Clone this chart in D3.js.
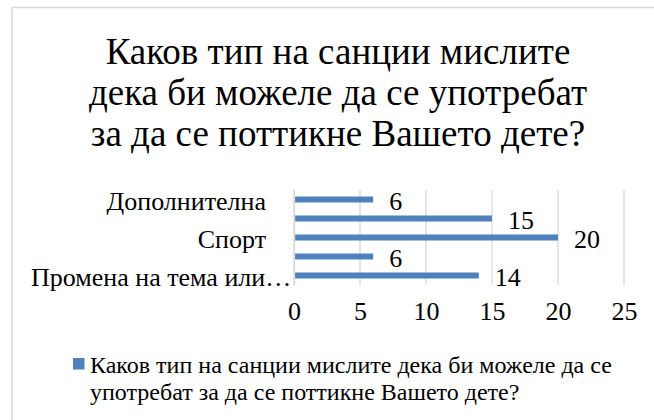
<!DOCTYPE html>
<html>
<head>
<meta charset="utf-8">
<script src="https://cdn.jsdelivr.net/npm/d3@7"></script>
<style>
  html, body { margin: 0; padding: 0; background: #fff; }
  svg { display: block; }
</style>
</head>
<body>
<svg id="chart" width="654" height="420"></svg>
<script>
// Categories in data order (Excel draws the first category at the bottom).
// Only every other label is visible in the reference; hidden ones are unreadable.
const categories = ["Промена на тема или…", "Категорија 2", "Спорт", "Категорија 4", "Дополнителна"];
const shownLabels = ["Промена на тема или…", "Спорт", "Дополнителна"];
const values = [14, 6, 20, 15, 6];
const xTicks = [0, 5, 10, 15, 20, 25];
const titleLines = ["Каков тип на санции мислите", "дека би можеле да се употребат", "за да се поттикне Вашето дете?"];
const legendLines = ["Каков тип на санции мислите дека би можеле да се", "употребат за да се поттикне Вашето дете?"];

const FONT = "'Liberation Serif', 'Times New Roman', serif";
const svg = d3.select("#chart");
const W = 654, H = 420;
const grid = "#d9d9d9", barColor = "#4f81bd", textColor = "#000";

// chart frame (extends past right / bottom edge)
svg.append("rect").attr("x", 12).attr("y", 7.5).attr("width", W).attr("height", H)
  .attr("fill", "#fff").attr("stroke", grid).attr("stroke-width", 1.5);

// title
svg.append("g").selectAll("text").data(titleLines).join("text")
  .attr("x", 338).attr("y", (d, i) => 63.5 + i * 41)
  .attr("text-anchor", "middle").attr("font-size", 37).attr("fill", textColor)
  .style("font-family", FONT)
  .text(d => d);

// scales
const plot = { left: 294, right: 624, top: 190, bottom: 285 };
const x = d3.scaleLinear().domain([0, 25]).range([plot.left, plot.right]);
const y = d3.scaleBand().domain(categories).range([plot.bottom, plot.top])
  .paddingInner(0.684).paddingOuter(0.342);

// gridlines
svg.append("g").selectAll("line").data(xTicks).join("line")
  .attr("x1", d => x(d)).attr("x2", d => x(d))
  .attr("y1", plot.top).attr("y2", plot.bottom)
  .attr("stroke", grid).attr("stroke-width", 1.3);

// x axis tick labels
const xAxis = d3.axisBottom(x).tickValues(xTicks).tickSize(0).tickPadding(0);
const gx = svg.append("g").attr("transform", `translate(0,${plot.bottom})`).call(xAxis);
gx.select(".domain").remove();
gx.selectAll("text").attr("font-size", 26).style("font-family", FONT)
  .attr("fill", textColor).attr("dy", null).attr("y", 35);

// bars
svg.append("g").selectAll("rect").data(categories).join("rect")
  .attr("x", x(0)).attr("y", d => y(d))
  .attr("width", (d, i) => x(values[i]) - x(0))
  .attr("height", y.bandwidth())
  .attr("fill", barColor);

// data labels
svg.append("g").selectAll("text").data(categories).join("text")
  .attr("x", (d, i) => x(values[i]) + 16)
  .attr("y", d => y(d) + y.bandwidth() / 2 + 1)
  .attr("dy", "0.35em")
  .attr("font-size", 26).attr("fill", textColor)
  .style("font-family", FONT)
  .text((d, i) => values[i]);

// category axis labels (every other one shown)
const yAxis = d3.axisLeft(y).tickSize(0).tickPadding(0)
  .tickFormat(d => shownLabels.includes(d) ? d : "");
const gy = svg.append("g").attr("transform", `translate(${plot.left},0)`).call(yAxis);
gy.select(".domain").attr("stroke", grid).attr("stroke-width", 1.3);
gy.selectAll("text").attr("font-size", 26).style("font-family", FONT)
  .attr("fill", textColor)
  .each(function () {
    const t = d3.select(this);
    const w = this.getComputedTextLength();
    // right-aligned near x=266 in page coords, but never crossing left of x=31
    const right = Math.max(266, 31 + w) - plot.left;
    t.attr("text-anchor", "end").attr("x", right).attr("dy", "0.4em");
  });

// legend
const lg = svg.append("g");
lg.append("rect").attr("x", 73).attr("y", 358).attr("width", 11.5).attr("height", 11.5).attr("fill", barColor);
lg.selectAll("text").data(legendLines).join("text")
  .attr("x", 90).attr("y", (d, i) => 372.5 + i * 27.5)
  .attr("font-size", 24).attr("fill", textColor)
  .style("font-family", FONT)
  .text(d => d);
</script>
</body>
</html>
